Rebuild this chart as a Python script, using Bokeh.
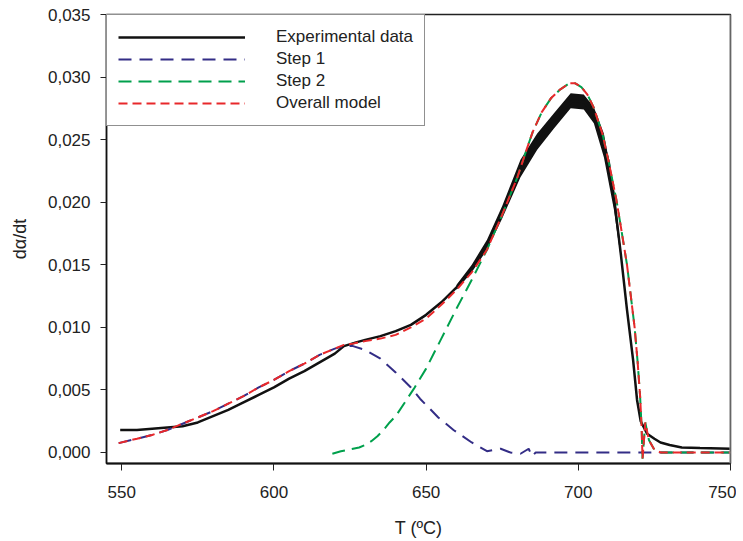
from bokeh.plotting import figure
from bokeh.models import (FixedTicker, CustomJSTickFormatter, Span,
                          Range1d, Legend, LegendItem)
from bokeh.embed import file_html
from bokeh.resources import INLINE

# ---------------- data ----------------
exp_T = [549.5, 555, 560, 565, 570, 575, 580, 585, 590, 595, 600, 605, 610, 615, 620, 623,
         627, 630, 635, 640, 645, 650, 655, 660, 665, 670, 675, 680, 685, 690, 695, 698,
         702, 705, 708, 710, 712, 714, 716, 718, 719.3, 720.5, 722.6, 725, 727, 730, 734,
         740, 750]
exp_y = [0.0018, 0.0018, 0.0019, 0.0020, 0.0021, 0.0024, 0.0029, 0.0034, 0.0040, 0.0046,
         0.0052, 0.0059, 0.0065, 0.0072, 0.0079, 0.0085, 0.0088, 0.0090, 0.0093, 0.0097,
         0.0102, 0.0110, 0.0120, 0.0132, 0.0147, 0.0166, 0.0192, 0.0222, 0.0243, 0.0259,
         0.0274, 0.0281, 0.0280, 0.0270, 0.0249, 0.0232, 0.0198, 0.0158, 0.0114, 0.0074,
         0.0042, 0.0025, 0.0015, 0.0011, 0.0008, 0.0006, 0.0004, 0.00035, 0.0003]

# noisy band of the experimental signal near the peak
band_T = [660, 665, 670, 675, 681, 686.5, 692, 697.5, 701.8, 705.1, 708.4, 711.7, 713.9]
band_hi = [0.0134, 0.0150, 0.0170, 0.0197, 0.0234, 0.0255, 0.0271, 0.0287, 0.0286, 0.0276,
           0.0255, 0.0212, 0.0164]
band_lo = [0.0130, 0.0144, 0.0162, 0.0187, 0.0220, 0.0242, 0.0259, 0.0275, 0.0274, 0.0263,
           0.0236, 0.0194, 0.0156]

step1_T = [549, 555, 560, 565, 570, 575, 580, 585, 590, 595, 600, 605, 610, 615, 620, 623,
           626, 630, 635, 640, 645, 648, 650, 654, 659, 665, 670, 672, 674.5, 677.7, 681,
           683.7, 684.8, 686, 700, 720, 750]
step1_y = [0.00075, 0.0011, 0.0014, 0.0018, 0.0023, 0.0028, 0.0033, 0.0039, 0.0045, 0.0052,
           0.0058, 0.0065, 0.0071, 0.0078, 0.0083, 0.0085, 0.0085, 0.0082, 0.0075, 0.0064,
           0.0052, 0.0043, 0.0038, 0.0028, 0.0018, 0.0008, 0.0001, 0.0002, 0.0003, 0.0,
           -0.0001, 0.0003, -0.0003, 0.0, 0.0, 0.0, 0.0]

step2_T = [619.2, 622, 624, 626, 628, 630, 632, 634, 636, 638, 640, 643, 646, 650, 655, 660,
           665, 670, 675, 680, 683, 685, 688, 691, 694, 697, 699, 701, 703, 705, 708, 710,
           712.5, 714, 716, 718.5, 719.5, 720.3, 720.8, 721.1, 722.0, 723.2, 724.8, 727, 750]
step2_y = [-0.0001, 0.0001, 0.0002, 0.0003, 0.0004, 0.0006, 0.0009, 0.0013, 0.0018, 0.0024,
           0.0029, 0.0040, 0.0051, 0.0067, 0.0091, 0.0115, 0.0138, 0.0162, 0.0190, 0.0220,
           0.0242, 0.0256, 0.0272, 0.0283, 0.0290, 0.0295, 0.0295, 0.0292, 0.0286, 0.0276,
           0.0254, 0.0232, 0.0202, 0.0180, 0.0150, 0.0100, 0.0072, 0.0045, 0.0020, -0.0005,
           0.0024, 0.0010, 0.0003, 0.0, 0.0]

model_T = [549, 555, 560, 565, 570, 575, 580, 585, 590, 595, 600, 605, 610, 615, 620, 623,
           626, 630, 635, 640, 645, 650, 655, 660, 665, 670, 675, 680, 683, 685, 688, 691,
           694, 697, 699, 701, 703, 705, 708, 710, 712.5, 714, 716, 718.5, 719.5, 720.3,
           720.8, 721.1, 722.0, 723.2, 724.8, 727, 750]
model_y = [0.00075, 0.0011, 0.0014, 0.0018, 0.0023, 0.0028, 0.0033, 0.0039, 0.0045, 0.0052,
           0.0058, 0.0065, 0.0071, 0.0078, 0.0083, 0.0086, 0.0087, 0.0089, 0.0091, 0.0094,
           0.0100, 0.0107, 0.0118, 0.0130, 0.0144, 0.0162, 0.0190, 0.0220, 0.0242, 0.0256,
           0.0272, 0.0283, 0.0290, 0.0295, 0.0295, 0.0292, 0.0286, 0.0276, 0.0254, 0.0232,
           0.0202, 0.0180, 0.0150, 0.0100, 0.0072, 0.0045, 0.0020, -0.0005, 0.0024, 0.0010,
           0.0003, 0.0, 0.0]

x_ticks = [550, 600, 650, 700, 750]
y_ticks = [0.000, 0.005, 0.010, 0.015, 0.020, 0.025, 0.030, 0.035]

labels = ["Experimental data", "Step 1", "Step 2", "Overall model"]
x_title = "T (ºC)"
y_title = "dα/dt"

FONT = "Liberation Sans"

p = figure(width=736, height=540, output_backend="svg", toolbar_location=None,
           x_range=Range1d(545, 750), y_range=Range1d(-0.00088, 0.035),
           min_border_left=106, min_border_right=6, min_border_top=14, min_border_bottom=77)
p.background_fill_color = "white"
p.border_fill_color = "white"
p.xgrid.visible = False
p.ygrid.visible = False
p.outline_line_color = "#222222"
p.outline_line_width = 1.5

# experimental band + line
p.varea(x=band_T, y1=band_lo, y2=band_hi, fill_color="#111111")
r_exp = p.line(exp_T, exp_y, line_color="#111111", line_width=2.5)
r_s1 = p.line(step1_T, step1_y, line_color="#332d86", line_width=2, line_dash="13 8")
r_s2 = p.line(step2_T, step2_y, line_color="#00a04c", line_width=2, line_dash="13 7")
r_m = p.line(model_T, model_y, line_color="#e8282b", line_width=2, line_dash="9 5")

legend = Legend(items=[LegendItem(label=labels[0], renderers=[r_exp]),
                       LegendItem(label=labels[1], renderers=[r_s1]),
                       LegendItem(label=labels[2], renderers=[r_s2]),
                       LegendItem(label=labels[3], renderers=[r_m])],
                location="top_left", margin=0, padding=11, spacing=0,
                glyph_width=127, glyph_height=22, label_height=22, label_standoff=31,
                label_text_font=FONT, label_text_font_size="17px", label_text_color="#222222",
                border_line_color="#222222", border_line_width=1.5,
                background_fill_color="white", background_fill_alpha=1.0)
p.add_layout(legend)

# right border is lighter
p.add_layout(Span(location=750, dimension="height", line_color="#a8a8a8", line_width=2))

fmt = CustomJSTickFormatter(code="return tick.toFixed(3).replace('.', ',');")

xa = p.xaxis[0]
xa.ticker = FixedTicker(ticks=x_ticks)
xa.axis_label = x_title
xa.axis_line_color = "#111111"
xa.axis_line_width = 2
xa.major_tick_out = 7
xa.major_tick_in = 0
xa.minor_tick_line_color = None
xa.major_label_standoff = 15
xa.axis_label_standoff = 17

ya = p.yaxis[0]
ya.ticker = FixedTicker(ticks=y_ticks)
ya.formatter = fmt
ya.axis_label = y_title
ya.axis_line_color = "#111111"
ya.axis_line_width = 1.5
ya.major_tick_out = 6
ya.major_tick_in = 0
ya.minor_tick_line_color = None
ya.major_label_standoff = 10
ya.axis_label_standoff = 15

for ax in (xa, ya):
    ax.major_label_text_font = FONT
    ax.major_label_text_font_size = "17px"
    ax.major_label_text_color = "#222222"
    ax.axis_label_text_font = FONT
    ax.axis_label_text_font_size = "18px"
    ax.axis_label_text_font_style = "normal"
    ax.axis_label_text_color = "#222222"
    ax.major_tick_line_color = "#222222"

open("out.html", "w").write(file_html(p, INLINE))
